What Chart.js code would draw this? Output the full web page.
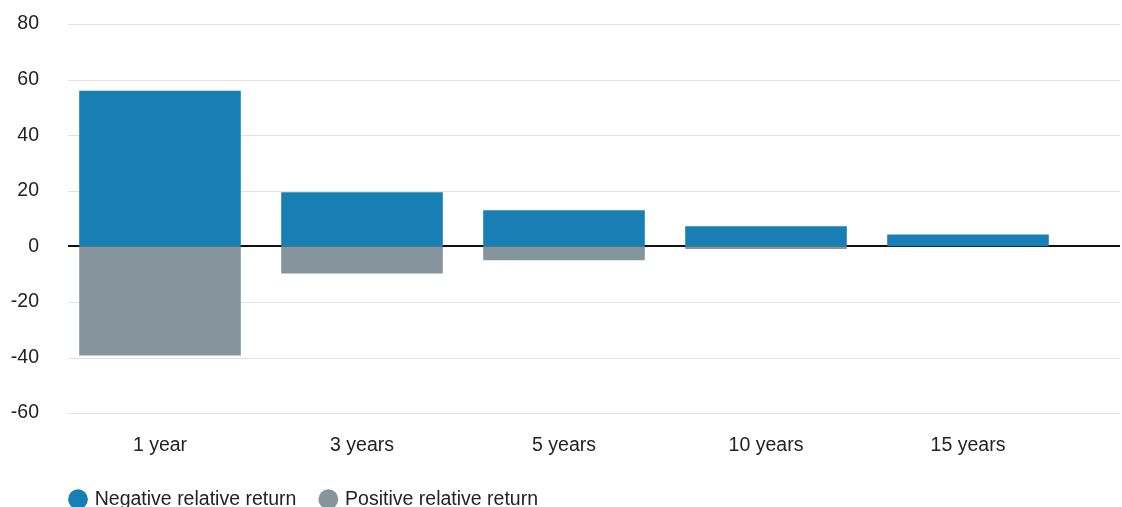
<!DOCTYPE html>
<html>
<head>
<meta charset="utf-8">
<script src="https://cdn.jsdelivr.net/npm/chart.js@4"></script>
<style>
  body { margin: 0; background: #fff; }
</style>
</head>
<body>
<canvas id="chart" width="1122" height="507"></canvas>
<script>
var categories = ['1 year', '3 years', '5 years', '10 years', '15 years'];
var negativeReturn = [56, 19.5, 13, 7.2, 4.3];
var positiveReturn = [-39.3, -9.8, -5, -1, 0];
var yTicks = [-60, -40, -20, 0, 20, 40, 60, 80];

var blue = '#177fb3';
var grey = '#86959b';
var font = { family: 'Liberation Sans, Arial, sans-serif', size: 19.5 };

// gridlines run a bit wider than the bar area, like the source
var gridPlugin = {
    id: 'wideGrid',
    afterLayout: function (chart) {
        // legend sits under the plot, not flush with the canvas edge
        chart.legend.left += 46;
        chart.legend.right += 46;
        chart.legend.top -= 14;
        chart.legend.bottom -= 14;
    },
    beforeDatasetsDraw: function (chart) {
        var ctx = chart.ctx;
        var y = chart.scales.y;
        var area = chart.chartArea;
        var left = area.left + 9;
        var right = area.right + 51;
        ctx.save();
        yTicks.forEach(function (v) {
            var py = Math.round(y.getPixelForValue(v));
            ctx.beginPath();
            if (v === 0) {
                ctx.strokeStyle = '#111';
                ctx.lineWidth = 2;
            } else {
                ctx.strokeStyle = '#e2e2e2';
                ctx.lineWidth = 1;
                py += 0.5;
            }
            ctx.moveTo(left, py);
            ctx.lineTo(right, py);
            ctx.stroke();
        });
        ctx.restore();
    }
};

new Chart(document.getElementById('chart'), {
    type: 'bar',
    data: {
        labels: categories,
        datasets: [
            {
                label: 'Negative relative return',
                data: negativeReturn,
                backgroundColor: blue,
                borderWidth: 0
            },
            {
                label: 'Positive relative return',
                data: positiveReturn,
                backgroundColor: grey,
                borderWidth: 0
            }
        ]
    },
    options: {
        responsive: false,
        animation: false,
        barPercentage: 0.8,
        categoryPercentage: 1,
        layout: { padding: { top: 24, right: 53, left: 0, bottom: -26 } },
        plugins: {
            tooltip: { enabled: false },
            legend: {
                position: 'bottom',
                align: 'start',
                labels: {
                    usePointStyle: true,
                    pointStyle: 'circle',
                    boxWidth: 14,
                    boxHeight: 14,
                    padding: 25,
                    color: '#222',
                    font: font
                }
            }
        },
        scales: {
            x: {
                stacked: true,
                grid: { display: false, drawTicks: false },
                border: { display: false },
                ticks: { color: '#222', padding: 21, font: font }
            },
            y: {
                stacked: true,
                min: -60,
                max: 80,
                grid: { display: false, drawTicks: false },
                border: { display: false },
                afterFit: function (scale) {
                    scale.width = 59;
                    scale.paddingTop = 0;
                    scale.paddingBottom = 0;
                },
                afterBuildTicks: function (scale) {
                    scale.ticks = yTicks.map(function (v) { return { value: v }; });
                },
                ticks: { color: '#222', padding: 20, font: font }
            }
        }
    },
    plugins: [gridPlugin]
});
</script>
</body>
</html>
